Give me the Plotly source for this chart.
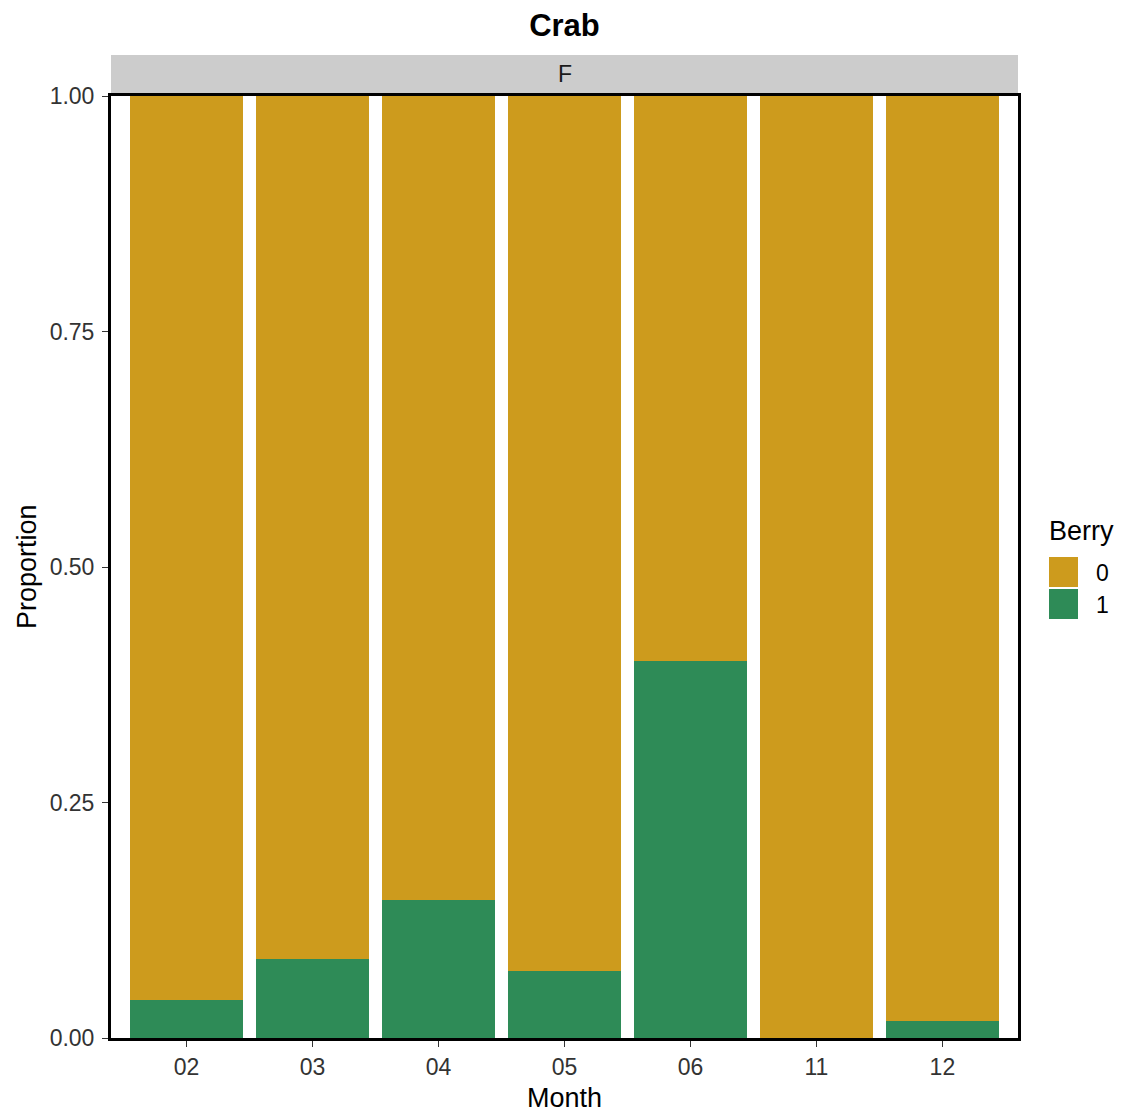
import plotly.graph_objects as go

months = ["02", "03", "04", "05", "06", "11", "12"]
berry1 = [0.040, 0.084, 0.146, 0.071, 0.400, 0.0, 0.018]
berry0 = [round(1 - v, 3) for v in berry1]
legend_title = "Berry"
legend_labels = ["0", "1"]
col0 = "#CD9B1D"
col1 = "#2E8B57"

W, H = 1127, 1118
L, R, T, B = 111, 109, 96, 80
FONT = "Liberation Sans, Arial, sans-serif"

fig = go.Figure()
fig.add_trace(go.Bar(x=months, y=berry1, name=legend_labels[1], showlegend=False,
                     marker=dict(color=col1, line=dict(width=0))))
fig.add_trace(go.Bar(x=months, y=berry0, name=legend_labels[0], showlegend=False,
                     marker=dict(color=col0, line=dict(width=0))))

pw = W - L - R
ph = H - T - B
strip_h = 41


def px_x(px):
    return (px - L) / pw


def px_y(py):
    return (H - B - py) / ph


shapes = [dict(type="rect", xref="paper", yref="paper", x0=0, x1=1,
               y0=1 + 2 / ph, y1=1 + strip_h / ph, fillcolor="#CCCCCC",
               line=dict(width=0), layer="below")]
annotations = [
    dict(text="F", xref="paper", yref="paper", x=0.5,
         y=1 + (strip_h / 2 + 2) / ph, xanchor="center", yanchor="middle",
         showarrow=False, font=dict(family=FONT, size=23, color="#1A1A1A")),
    dict(text="Month", xref="paper", yref="paper", x=0.5, y=px_y(1098),
         xanchor="center", yanchor="middle", showarrow=False,
         font=dict(family=FONT, size=27, color="black")),
    dict(text="Proportion", xref="paper", yref="paper", x=px_x(27), y=0.5,
         xanchor="center", yanchor="middle", textangle=-90, showarrow=False,
         font=dict(family=FONT, size=27, color="black")),
    dict(text=legend_title, xref="paper", yref="paper", x=px_x(1047), y=px_y(531),
         xanchor="left", yanchor="middle", showarrow=False,
         font=dict(family=FONT, size=27, color="black")),
]
key_cols = [col0, col1]
for i, (lab, c) in enumerate(zip(legend_labels, key_cols)):
    top = 557 + i * 32
    shapes.append(dict(type="rect", xref="paper", yref="paper",
                       x0=px_x(1049), x1=px_x(1078), y0=px_y(top + 30), y1=px_y(top),
                       fillcolor=c, line=dict(width=0)))
    annotations.append(dict(text=lab, xref="paper", yref="paper", x=px_x(1094),
                            y=px_y(top + 16), xanchor="left", yanchor="middle",
                            showarrow=False, font=dict(family=FONT, size=23, color="black")))

fig.update_layout(
    width=W, height=H,
    margin=dict(l=L, r=R, t=T, b=B),
    barmode="stack", bargap=0.1, showlegend=False,
    plot_bgcolor="white", paper_bgcolor="white",
    font=dict(family=FONT, size=23, color="#333"),
    title=dict(text="<b>Crab</b>", x=(L + (W - R)) / 2 / W, xanchor="center",
               y=1 - 25 / H, yanchor="middle", font=dict(size=31, color="black")),
    xaxis=dict(type="category", range=[-0.6, 6.6], showgrid=False, automargin=False,
               ticks="outside", ticklen=6, tickcolor="#333", tickwidth=1.3,
               tickfont=dict(size=23, color="#333"),
               showline=True, linecolor="black", linewidth=3, mirror=True, zeroline=False),
    yaxis=dict(range=[0, 1], tickvals=[0, 0.25, 0.5, 0.75, 1.0], automargin=False,
               ticktext=["0.00", "0.25", "0.50", "0.75", "1.00"], showgrid=False,
               ticks="outside", ticklen=6, tickcolor="#333", tickwidth=1.3,
               ticklabelstandoff=3,
               tickfont=dict(size=23, color="#333"),
               showline=True, linecolor="black", linewidth=3, mirror=True, zeroline=False),
    shapes=shapes,
    annotations=annotations,
)

fig.write_html("out.html")
